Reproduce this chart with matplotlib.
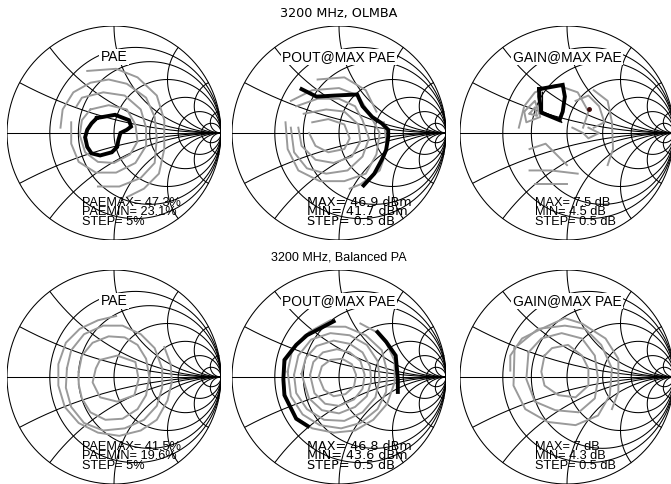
import numpy as np
import matplotlib.pyplot as plt

plt.rcParams['font.family'] = ['Liberation Sans', 'DejaVu Sans']

# Smith chart grid values (normalised resistance / reactance)
R_CIRCLES = [0.25, 0.5, 1, 2, 4, 10]
X_ARCS = [0.25, 0.5, 1, 2, 4, 10]

ROW_TITLES = ['3200 MHz, OLMBA', '3200 MHz, Balanced PA']
PANEL_LABELS = ['PAE', 'POUT@MAX PAE', 'GAIN@MAX PAE']

# text block under each chart
olmba_text = [['PAEMAX= 47.3%', 'PAEMIN= 23.1%', 'STEP= 5%'],
              ['MAX= 46.9 dBm', 'MIN= 41.7 dBm', 'STEP= 0.5 dB'],
              ['MAX= 7.5 dB', 'MIN= 4.5 dB', 'STEP= 0.5 dB']]
balanced_text = [['PAEMAX= 41.5%', 'PAEMIN= 19.6%', 'STEP= 5%'],
                 ['MAX= 46.8 dBm', 'MIN= 43.6 dBm', 'STEP= 0.5 dB'],
                 ['MAX= 7 dB', 'MIN= 4.3 dB', 'STEP= 0.5 dB']]

# ---- contour data, reflection coefficient (re, im) ----
olmba_pae_gray = [
    [(-0.22, 0.22), (-0.05, 0.26), (0.12, 0.22), (0.2, 0.08), (0.22, -0.08), (0.15, -0.2),
     (0.0, -0.28), (-0.15, -0.27), (-0.27, -0.18), (-0.32, -0.02), (-0.3, 0.12), (-0.22, 0.22)],
    [(-0.35, 0.25), (-0.3, 0.33), (-0.1, 0.38), (0.1, 0.35), (0.25, 0.22), (0.3, 0.05), (0.3, -0.12),
     (0.2, -0.28), (0.02, -0.37), (-0.17, -0.37), (-0.33, -0.27), (-0.4, -0.1), (-0.4, 0.1)],
    [(-0.5, 0.05), (-0.48, 0.22), (-0.38, 0.38), (-0.22, 0.47), (-0.05, 0.5), (0.12, 0.46),
     (0.3, 0.33), (0.38, 0.15), (0.4, -0.05), (0.38, -0.28), (0.25, -0.42), (0.05, -0.5), (-0.15, -0.5)],
    [(-0.25, 0.58), (0.02, 0.6), (0.22, 0.52), (0.4, 0.35), (0.47, 0.12), (0.47, -0.15),
     (0.42, -0.38), (0.28, -0.52), (0.12, -0.6)],
]
olmba_pae_max = [[(-0.16, 0.14), (0.01, 0.17), (0.14, 0.12), (0.16, 0.06), (0.12, 0.03), (0.06, 0.0),
                  (0.04, -0.07), (0.03, -0.13), (-0.02, -0.18), (-0.13, -0.21), (-0.21, -0.19),
                  (-0.25, -0.13), (-0.27, -0.04), (-0.25, 0.03), (-0.21, 0.09), (-0.16, 0.14)]]

olmba_pout_gray = [
    [(-0.25, 0.1), (-0.1, 0.13), (0.05, 0.08), (0.1, -0.05), (0.05, -0.15), (-0.1, -0.18),
     (-0.22, -0.12), (-0.28, 0.0)],
    [(-0.33, 0.18), (-0.12, 0.22), (0.05, 0.2), (0.18, 0.08), (0.2, -0.08), (0.12, -0.22),
     (-0.05, -0.28), (-0.22, -0.25), (-0.35, -0.12), (-0.38, 0.05)],
    [(-0.4, 0.25), (-0.2, 0.32), (0.0, 0.32), (0.15, 0.25), (0.22, 0.12), (0.28, -0.05), (0.22, -0.22),
     (0.08, -0.35), (-0.12, -0.38), (-0.3, -0.33), (-0.42, -0.18), (-0.45, 0.05)],
    [(-0.45, 0.3), (-0.25, 0.4), (0.0, 0.42), (0.18, 0.35), (0.3, 0.15), (0.38, 0.0), (0.35, -0.2),
     (0.25, -0.38), (0.05, -0.45), (-0.18, -0.45), (-0.38, -0.35), (-0.48, -0.15), (-0.5, 0.1)],
    [(-0.2, 0.5), (0.05, 0.52), (0.25, 0.4), (0.35, 0.2)],
    [(0.42, 0.1), (0.45, -0.15), (0.38, -0.35), (0.2, -0.48), (0.1, -0.52)],
]
olmba_pout_max = [[(-0.35, 0.41), (-0.21, 0.34), (-0.04, 0.35), (0.17, 0.36), (0.22, 0.25),
                   (0.31, 0.15), (0.4, 0.09), (0.46, 0.03), (0.46, -0.04), (0.44, -0.16),
                   (0.4, -0.25), (0.33, -0.38), (0.23, -0.49)]]

olmba_gain_gray = [
    [(-0.45, 0.05), (-0.4, 0.25), (-0.3, 0.38), (-0.1, 0.45), (0.1, 0.38), (0.2, 0.2), (0.15, 0.05)],
    [(-0.4, 0.2), (-0.3, 0.3), (-0.25, 0.15), (-0.38, 0.1), (-0.4, 0.2)],
    [(-0.35, 0.18), (-0.3, 0.24), (-0.28, 0.16), (-0.35, 0.18)],
    [(0.08, 0.3), (0.2, 0.35), (0.3, 0.25), (0.35, 0.1), (0.25, 0.05)],
    [(0.05, 0.05), (0.15, 0.0), (0.2, -0.05), (0.3, 0.0), (0.2, 0.05)],
    [(-0.35, -0.15), (-0.2, -0.1), (-0.1, -0.2), (0.0, -0.3)],
    [(-0.35, -0.35), (-0.15, -0.35), (0.1, -0.38)],
    [(-0.3, -0.48), (0.0, -0.48)],
    [(0.25, 0.4), (0.38, 0.3), (0.42, 0.1), (0.43, -0.15), (0.38, -0.3)],
]
olmba_gain_max = [[(-0.26, 0.41), (-0.04, 0.45), (-0.02, 0.34), (-0.04, 0.2), (-0.07, 0.12),
                   (-0.24, 0.19), (-0.26, 0.34), (-0.26, 0.41)]]
# thin second trace beside the thick gain contour
olmba_gain_max2 = [(-0.23, 0.38), (-0.23, 0.2), (-0.07, 0.13), (-0.05, 0.1)]

bal_pae_gray = [
    [(-0.13, 0.16), (0.03, 0.2), (0.2, 0.14), (0.23, -0.02), (0.19, -0.17), (0.03, -0.23),
     (-0.13, -0.19), (-0.2, -0.05), (-0.17, 0.08), (-0.13, 0.16)],
    [(-0.33, 0.05), (-0.3, 0.2), (-0.2, 0.32), (-0.05, 0.38), (0.1, 0.37), (0.22, 0.3), (0.3, 0.17),
     (0.33, 0.0), (0.3, -0.17), (0.22, -0.3), (0.08, -0.39), (-0.08, -0.4), (-0.22, -0.33),
     (-0.3, -0.2), (-0.33, -0.07), (-0.33, 0.05)],
    [(-0.44, 0.08), (-0.4, 0.25), (-0.28, 0.4), (-0.1, 0.48), (0.08, 0.48), (0.25, 0.4), (0.38, 0.27),
     (0.45, 0.08), (0.45, -0.1), (0.4, -0.27), (0.28, -0.4), (0.1, -0.48), (-0.1, -0.5),
     (-0.28, -0.43), (-0.4, -0.28), (-0.45, -0.1), (-0.44, 0.08)],
    [(0.02, 0.57), (-0.15, 0.53), (-0.32, 0.45), (-0.45, 0.32), (-0.52, 0.12), (-0.52, -0.08),
     (-0.46, -0.28), (-0.33, -0.43), (-0.15, -0.52), (0.05, -0.55), (0.25, -0.5), (0.4, -0.4),
     (0.5, -0.22), (0.54, -0.05), (0.53, 0.12), (0.47, 0.28)],
]
bal_pae_max = []

bal_pout_gray = [
    [(-0.19, 0.0), (-0.16, 0.1), (-0.08, 0.16), (0.03, 0.17), (0.12, 0.12), (0.16, 0.02), (0.14, -0.09),
     (0.06, -0.16), (-0.05, -0.18), (-0.14, -0.12), (-0.19, 0.0)],
    [(-0.27, 0.02), (-0.24, 0.14), (-0.15, 0.23), (-0.02, 0.26), (0.1, 0.23), (0.2, 0.15), (0.24, 0.02),
     (0.22, -0.11), (0.14, -0.21), (0.0, -0.27), (-0.13, -0.25), (-0.23, -0.15), (-0.27, 0.02)],
    [(-0.35, 0.03), (-0.31, 0.18), (-0.21, 0.29), (-0.05, 0.34), (0.1, 0.31), (0.22, 0.23), (0.29, 0.1),
     (0.3, -0.04), (0.26, -0.18), (0.15, -0.28), (0.0, -0.34), (-0.16, -0.31), (-0.28, -0.2), (-0.35, 0.03)],
    [(-0.42, 0.02), (-0.38, 0.2), (-0.26, 0.35), (-0.08, 0.41), (0.1, 0.39), (0.26, 0.3), (0.36, 0.15),
     (0.38, -0.02), (0.34, -0.19), (0.22, -0.33), (0.05, -0.41), (-0.14, -0.4), (-0.3, -0.3),
     (-0.4, -0.15), (-0.42, 0.02)],
    [(-0.48, 0.05), (-0.44, 0.24), (-0.32, 0.39), (-0.13, 0.47), (0.06, 0.47), (0.25, 0.39), (0.4, 0.25),
     (0.45, 0.05), (0.44, -0.14), (0.36, -0.3), (0.2, -0.43), (0.02, -0.48), (-0.18, -0.45),
     (-0.34, -0.35), (-0.45, -0.18), (-0.48, 0.05)],
    [(-0.08, 0.53), (-0.28, 0.42), (-0.4, 0.3), (-0.5, 0.15), (-0.52, -0.02), (-0.5, -0.18),
     (-0.4, -0.38), (-0.25, -0.48), (-0.05, -0.52), (0.15, -0.5), (0.32, -0.4), (0.45, -0.25),
     (0.52, -0.05), (0.52, 0.15), (0.44, 0.32), (0.35, 0.42), (0.2, 0.5)],
]
bal_pout_max = [
    [(-0.05, 0.52), (-0.3, 0.39), (-0.4, 0.3), (-0.51, 0.16), (-0.52, -0.02), (-0.51, -0.17),
     (-0.4, -0.39), (-0.29, -0.46)],
    [(0.36, 0.42), (0.44, 0.33), (0.53, 0.2), (0.55, -0.02), (0.55, -0.14)],
]

bal_gain_gray = [
    [(-0.21, 0.2), (-0.24, 0.05), (-0.21, -0.08), (-0.08, -0.17), (0.08, -0.19), (0.2, -0.08),
     (0.2, 0.08), (0.14, 0.2), (0.01, 0.3), (-0.14, 0.27), (-0.21, 0.2)],
    [(-0.36, 0.23), (-0.38, -0.02), (-0.3, -0.23), (-0.11, -0.31), (0.11, -0.33), (0.26, -0.2),
     (0.29, -0.02), (0.26, 0.2), (0.14, 0.36), (-0.05, 0.41), (-0.24, 0.36), (-0.36, 0.23)],
    [(-0.49, 0.27), (-0.5, -0.08), (-0.39, -0.3), (-0.18, -0.42), (0.08, -0.45), (0.29, -0.36),
     (0.4, -0.17), (0.42, 0.08), (0.32, 0.3), (0.17, 0.45), (-0.02, 0.48), (-0.27, 0.45), (-0.49, 0.27)],
    [(-0.53, 0.06), (-0.53, 0.2), (-0.42, 0.36), (-0.24, 0.45), (-0.02, 0.55), (0.14, 0.5),
     (0.36, 0.36), (0.48, 0.17), (0.48, -0.14), (0.42, -0.3)],
]
bal_gain_max = []

# dark marker spot in the OLMBA gain chart
olmba_gain_spot = (0.21, 0.22)

# ---- layout (pixels of the 671 x 484 picture) ----
W, H = 671, 484
RAD = 107
COLS_X = [114, 339, 567]
ROWS_Y = [133, 377]


def smith_grid(ax):
    t = np.linspace(0, 2 * np.pi, 500)
    kw = dict(color='k', lw=0.75, zorder=1)
    ax.plot(np.cos(t), np.sin(t), **kw)
    ax.plot([-1, 1], [0, 0], **kw)
    for r in R_CIRCLES:
        c = r / (1 + r)
        rr = 1 / (1 + r)
        ax.plot(c + rr * np.cos(t), rr * np.sin(t), **kw)
    t2 = np.linspace(-1.5 * np.pi, -0.5 * np.pi, 1500)
    for x in X_ARCS:
        rr = 1 / x
        px = 1 + rr * np.cos(t2)
        py = rr + rr * np.sin(t2)
        m = px ** 2 + py ** 2 <= 1.0005
        ax.plot(px[m], py[m], **kw)
        ax.plot(px[m], -py[m], **kw)


def draw_panel(ax, gray, black, label, lines, wide_text):
    smith_grid(ax)
    for c in gray:
        xs, ys = zip(*c)
        ax.plot(xs, ys, color='#9a9a9a', lw=1.4, zorder=2)
    for c in black:
        xs, ys = zip(*c)
        ax.plot(xs, ys, color='k', lw=2.8, zorder=3, solid_joinstyle='miter')
    ax.text(0, 0.71, label, ha='center', va='center', fontsize=10, zorder=5,
            bbox=dict(facecolor='white', edgecolor='none', pad=1.0))
    # the POUT panels use a wider lettering in the original
    fam = ['DejaVu Sans'] if wide_text else ['Liberation Sans']
    fs = 9.2
    for i, s in enumerate(lines):
        ax.text(-0.3, -0.68 - 0.09 * i, s, ha='left', va='baseline', fontsize=fs,
                family=fam, zorder=5)
    ax.set_xlim(-1, 1)
    ax.set_ylim(-1, 1)
    ax.axis('off')


fig = plt.figure(figsize=(W / 100, H / 100), dpi=100)

panels = [
    [(olmba_pae_gray, olmba_pae_max), (olmba_pout_gray, olmba_pout_max), (olmba_gain_gray, olmba_gain_max)],
    [(bal_pae_gray, bal_pae_max), (bal_pout_gray, bal_pout_max), (bal_gain_gray, bal_gain_max)],
]
texts = [olmba_text, balanced_text]

for row in range(2):
    for col in range(3):
        cx, cy = COLS_X[col], ROWS_Y[row]
        ax = fig.add_axes([(cx - RAD) / W, (H - cy - RAD) / H, 2 * RAD / W, 2 * RAD / H])
        gray, black = panels[row][col]
        draw_panel(ax, gray, black, PANEL_LABELS[col], texts[row][col], col == 1)
        if row == 0 and col == 2:
            ax.plot(*zip(*olmba_gain_max2), color='k', lw=1.0, zorder=3)
            ax.plot(*olmba_gain_spot, 'o', color='#3a0a0a', ms=2.5, zorder=4)

fig.text(COLS_X[1] / W, 1 - 13 / H, ROW_TITLES[0], ha='center', va='center',
         fontsize=9.2, family=['DejaVu Sans'])
fig.text(COLS_X[1] / W, 1 - 258 / H, ROW_TITLES[1], ha='center', va='center', fontsize=9)

fig.savefig('out.png', dpi=100)
